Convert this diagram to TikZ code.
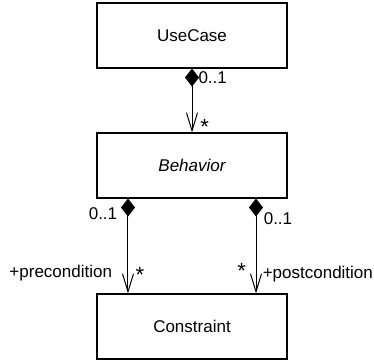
\documentclass[tikz,border=0pt]{standalone}
\usepackage{fontspec}
\setmainfont{Liberation Sans}
\usetikzlibrary{arrows.meta}
\tikzset{
  classbox/.style={draw, line width=1.1bp, minimum width=190bp, minimum height=65bp, inner sep=0pt,
    font=\fontsize{17bp}{20bp}\selectfont},
  comp/.style={line width=1bp,
    {Diamond[length=18bp,width=14bp]}-{Straight Barb[length=18bp,width=11bp,line width=1bp]}},
  lbl/.style={inner sep=0pt, anchor=north west, font=\fontsize{17bp}{20bp}\selectfont},
  star/.style={inner sep=0pt, anchor=north west, font=\fontsize{22bp}{24bp}\selectfont}
}
\begin{document}
\begin{tikzpicture}[x=1bp,y=-1bp]
\useasboundingbox (0,0) rectangle (374,360);
\node[classbox] (uc) at (192,35.5) {UseCase};
\node[classbox] (beh) at (192,165.5) {\itshape Behavior};
\node[classbox] (con) at (192,326.5) {Constraint};
\draw[comp] (uc.south) -- (beh.north);
\draw[comp] ([xshift=-64bp]beh.south) -- ([xshift=-64bp]con.north);
\draw[comp] ([xshift=64bp]beh.south) -- ([xshift=64bp]con.north);
\node[lbl] (m1) at (198.3,71) {0..1};
\node[star] (s1) at (200.2,119.5) {*};
\node[lbl] (m2) at (88.6,207.7) {0..1};
\node[lbl] (m3) at (263.6,212) {0..1};
\node[lbl] (pre) at (9.3,265) {+precondition};
\node[star] (s2) at (135.5,267) {*};
\node[star] (s3) at (237.2,263.3) {*};
\node[lbl] (post) at (262.6,266) {+postcondition};
\end{tikzpicture}
\end{document}
